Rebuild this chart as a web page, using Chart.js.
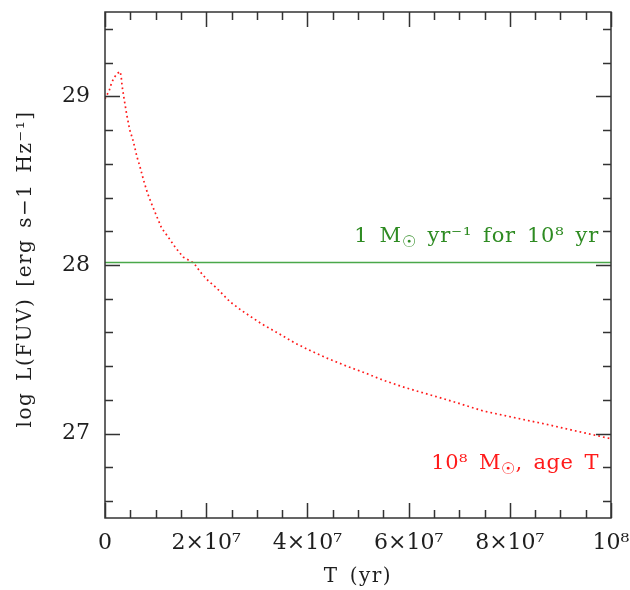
<!DOCTYPE html>
<html><head><meta charset="utf-8">
<script src="https://cdn.jsdelivr.net/npm/chart.js@4"></script>
<style>html,body{margin:0;padding:0;background:#fff}#wrap{width:630px;height:590px}</style>
</head><body><div id="wrap"><canvas id="c" width="630" height="590"></canvas></div>
<script>
// Data
const burstAge = [0, 0.85e6, 1.3e6, 1.8e6, 2.4e6, 3.0e6, 3.2e6, 3.4e6, 3.8e6, 4.3e6, 4.9e6, 5.6e6, 6.3e6, 6.9e6, 7.6e6, 8.4e6, 9.1e6, 10.2e6, 11.2e6, 12.5e6, 14.0e6, 15.5e6, 16.8e6, 17.6e6, 18.8e6, 20.1e6, 22.1e6, 24.7e6, 27.0e6, 31.0e6, 34.3e6, 37.5e6, 40.8e6, 44.1e6, 47.8e6, 51.4e6, 55.0e6, 58.6e6, 62.3e6, 68.5e6, 74.8e6, 81.4e6, 87.3e6, 93.2e6, 100e6];
const burstLogL = [28.985, 29.036, 29.08, 29.11, 29.135, 29.147, 29.115, 29.056, 28.98, 28.89, 28.80, 28.733, 28.643, 28.584, 28.505, 28.426, 28.37, 28.29, 28.218, 28.165, 28.10, 28.046, 28.024, 28.01, 27.96, 27.915, 27.862, 27.782, 27.73, 27.65, 27.594, 27.538, 27.489, 27.445, 27.40, 27.36, 27.317, 27.28, 27.247, 27.193, 27.134, 27.092, 27.055, 27.015, 26.97];
const constAge = [0, 1e8];
const constLogL = [28.015, 28.015];
const xTickValues = [0, 2e7, 4e7, 6e7, 8e7, 1e8];
const xTickLabels = ['0', '2×10⁷', '4×10⁷', '6×10⁷', '8×10⁷', '10⁸'];
const yTickValues = [27, 28, 29];
const yTickLabels = ['27', '28', '29'];
const xMinorTicks = [0, 5e6, 1e7, 1.5e7, 2e7, 2.5e7, 3e7, 3.5e7, 4e7, 4.5e7, 5e7, 5.5e7, 6e7, 6.5e7, 7e7, 7.5e7, 8e7, 8.5e7, 9e7, 9.5e7, 1e8];
const yMinorTicks = [26.6, 26.8, 27, 27.2, 27.4, 27.6, 27.8, 28, 28.2, 28.4, 28.6, 28.8, 29, 29.2, 29.4];
const xTitle = [{ t: 'T (yr)' }];
const yTitle = [{ t: 'log L(FUV) [erg s−1 Hz⁻¹]' }];
const constLabel = [{ t: '1 M' }, { t: '☉', sub: true }, { t: ' yr⁻¹ for 10⁸ yr' }];
const burstLabel = [{ t: '10⁸ M' }, { t: '☉', sub: true }, { t: ', age T' }];

const FONT = "'DejaVu Serif', serif";
const INK = '#1e1e1e';
const GREEN = '#2e8b22';
const RED = '#ff1a1a';

const frameTicks = {
  id: 'frameTicks',
  afterDraw(chart) {
    const { ctx, chartArea: a, scales: { x, y } } = chart;
    ctx.save();
    ctx.strokeStyle = '#333';
    ctx.lineWidth = 1.5;
    ctx.strokeRect(a.left, a.top, a.right - a.left, a.bottom - a.top);
    ctx.beginPath();
    xMinorTicks.forEach(v => {
      const len = xTickValues.includes(v) ? 15 : 8;
      const px = Math.round(x.getPixelForValue(v)) + 0.5;
      ctx.moveTo(px, a.bottom); ctx.lineTo(px, a.bottom - len);
      ctx.moveTo(px, a.top); ctx.lineTo(px, a.top + len);
    });
    yMinorTicks.forEach(v => {
      const len = yTickValues.includes(v) ? 15 : 8;
      const py = Math.round(y.getPixelForValue(v)) + 0.5;
      ctx.moveTo(a.left, py); ctx.lineTo(a.left + len, py);
      ctx.moveTo(a.right, py); ctx.lineTo(a.right - len, py);
    });
    ctx.stroke();
    ctx.restore();
  }
};

// draws text char by char with extra spacing (wide typewriter-like spacing of the original)
function subSize(size) { return Math.round(size * 0.75); }
function spacedWidth(ctx, parts, size, gap, sp) {
  let w = 0;
  parts.forEach(p => {
    ctx.font = `${p.sub ? subSize(size) : size}px ${FONT}`;
    for (const ch of p.t) w += ch === ' ' ? sp : ctx.measureText(ch).width + gap;
  });
  return w;
}
function drawSpaced(ctx, parts, x, baseline, size, align, gap, sp) {
  const total = spacedWidth(ctx, parts, size, gap, sp);
  let cx = align === 'right' ? x - total : align === 'center' ? x - total / 2 : x;
  ctx.textBaseline = 'alphabetic';
  ctx.textAlign = 'left';
  parts.forEach(p => {
    ctx.font = `${p.sub ? subSize(size) : size}px ${FONT}`;
    for (const ch of p.t) {
      if (ch === ' ') { cx += sp; continue; }
      ctx.fillText(ch, cx, baseline + (p.sub ? 5 : 0));
      cx += ctx.measureText(ch).width + gap;
    }
  });
}

const textPlugin = {
  id: 'textPlugin',
  afterDatasetsDraw(chart) {
    const { ctx, chartArea: a, scales: { x, y } } = chart;
    ctx.save();
    const xr = x.getPixelForValue(1e8) - 12;
    ctx.fillStyle = GREEN;
    drawSpaced(ctx, constLabel, xr, y.getPixelForValue(28.135), 21, 'right', 0.8, 11);
    ctx.fillStyle = RED;
    drawSpaced(ctx, burstLabel, xr, y.getPixelForValue(26.79), 21, 'right', 0.5, 11);
    ctx.fillStyle = INK;
    drawSpaced(ctx, xTitle, (a.left + a.right) / 2, 582, 20, 'center', 1.5, 11);
    ctx.translate(31, (a.top + a.bottom) / 2 + 4);
    ctx.rotate(-Math.PI / 2);
    drawSpaced(ctx, yTitle, 0, 0, 20, 'center', 1.5, 11);
    ctx.restore();
  }
};

new Chart(document.getElementById('c'), {
  type: 'line',
  data: {
    datasets: [
      {
        data: constAge.map((v, i) => ({ x: v, y: constLogL[i] })),
        borderColor: '#4aa84a', borderWidth: 1.5, pointRadius: 0, tension: 0
      },
      {
        data: burstAge.map((v, i) => ({ x: v, y: burstLogL[i] })),
        borderColor: RED, borderWidth: 1.7, borderDash: [1.7, 3.1], pointRadius: 0, tension: 0
      }
    ]
  },
  options: {
    responsive: false,
    animation: false,
    events: [],
    layout: { padding: { top: 12, right: 19, left: 0, bottom: 0 } },
    plugins: { legend: { display: false }, tooltip: { enabled: false } },
    scales: {
      x: {
        type: 'linear', min: 0, max: 1e8,
        afterBuildTicks: s => { s.ticks = xTickValues.map(v => ({ value: v })); },
        afterFit: s => { s.height = 72; s.paddingLeft = 0; s.paddingRight = 0; },
        grid: { display: false, drawTicks: false },
        border: { display: false },
        ticks: {
          padding: 12, color: INK, font: { family: FONT, size: 22 }, maxRotation: 0, autoSkip: false,
          callback: (v) => xTickLabels[xTickValues.indexOf(v)]
        }
      },
      y: {
        type: 'linear', min: 26.5, max: 29.5,
        afterBuildTicks: s => { s.ticks = yTickValues.map(v => ({ value: v })); },
        afterFit: s => { s.width = 105; s.paddingTop = 0; s.paddingBottom = 0; },
        grid: { display: false, drawTicks: false },
        border: { display: false },
        ticks: {
          padding: 15, color: INK, font: { family: FONT, size: 22 }, autoSkip: false,
          callback: (v) => yTickLabels[yTickValues.indexOf(v)]
        }
      }
    }
  },
  plugins: [frameTicks, textPlugin]
});
</script>
</body></html>
